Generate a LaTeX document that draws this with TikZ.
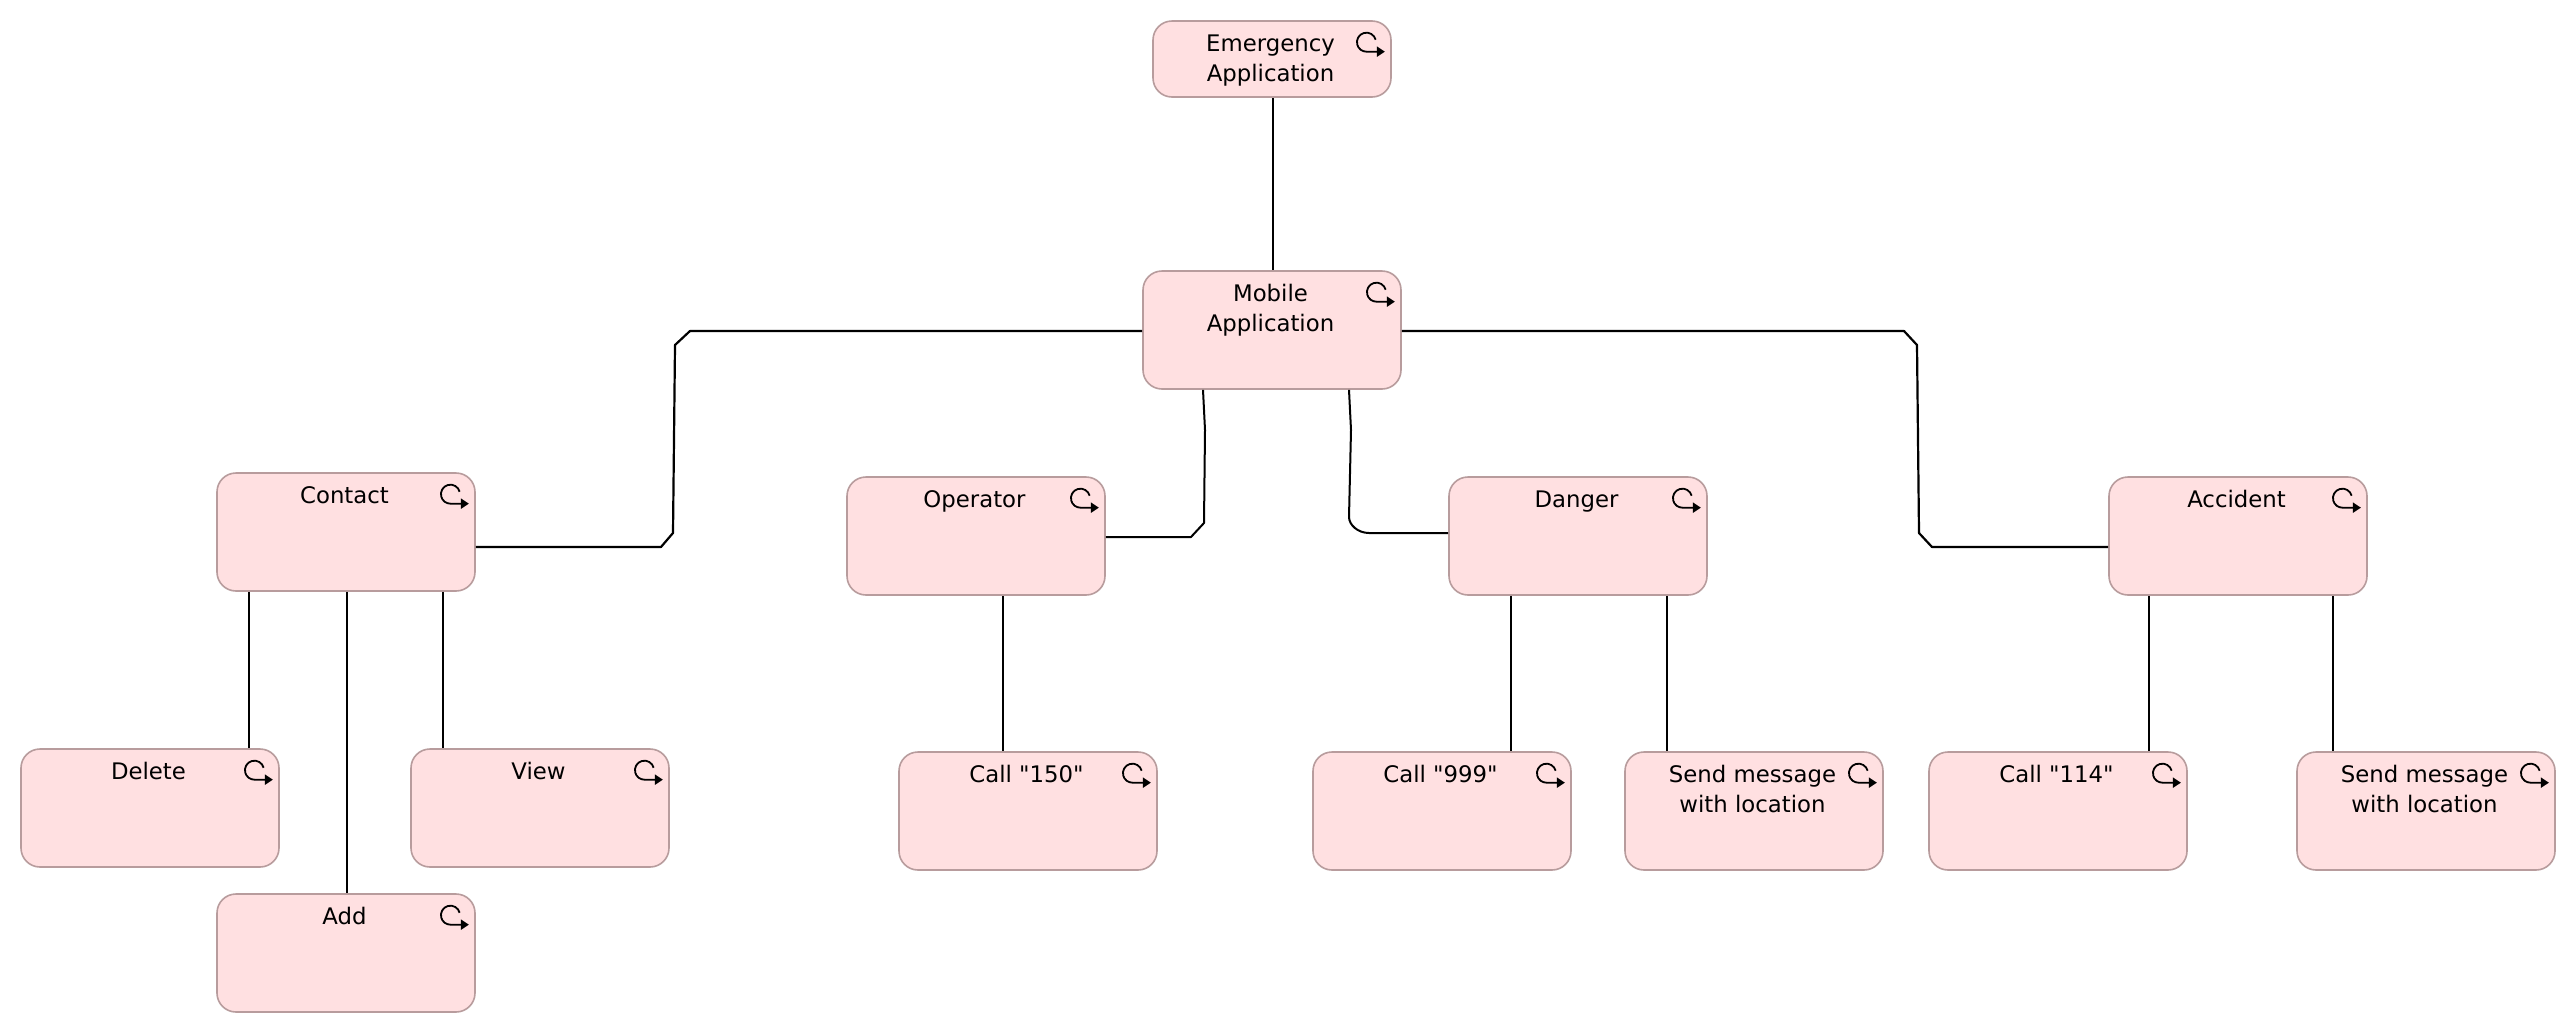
\documentclass[tikz,border=0pt]{standalone}
\usepackage{fontspec}
\setmainfont{DejaVu Sans}[Ligatures=TeXOff]
\usetikzlibrary{arrows.meta}
\definecolor{procfill}{HTML}{FFE0E1}
\definecolor{procline}{HTML}{B89C9D}
\tikzset{
  procbox/.style={draw=procline,fill=procfill,line width=1.6pt,rounded corners=19pt,inner sep=0pt,rectangle},
  proctext/.style={font=\fontsize{22.8}{30}\selectfont,align=center,inner sep=0pt,anchor=north,text=black},
  wire/.style={draw=black,line width=2.2pt,line join=round},
  wirethin/.style={draw=black,line width=2pt,line join=round},
  procicon/.style={draw=black,line width=1.8pt,-{Triangle[length=8pt,width=10pt]}}
}
\newcommand{\proc}[6]{%
  \node[procbox,minimum width=#4 pt,minimum height=#5 pt] (#1) at ({#2+#4/2},{#3+#5/2}) {};
  \node[proctext] (#1-label) at ([xshift=-1.5pt,yshift=-11.4pt]#1.north) {\rule{0pt}{20pt}#6};
  \draw[procicon] ([shift={(-16.2pt,-19.5pt)}]#1.north east) arc[start angle=15,end angle=270,radius=9.5pt] -- ++(18.5pt,0pt);
}
\begin{document}
\begin{tikzpicture}[x=1pt,y=-1pt]
\useasboundingbox[fill=white] (0,0) rectangle (2576,1034);
\proc{eme}{1153}{21}{238}{76}{Emergency\\Application}
\proc{mob}{1143}{271}{258}{118}{Mobile\\Application}
\proc{con}{217}{473}{258}{118}{Contact}
\proc{ope}{847}{477}{258}{118}{Operator}
\proc{dan}{1449}{477}{258}{118}{Danger}
\proc{acc}{2109}{477}{258}{118}{Accident}
\proc{del}{21}{749}{258}{118}{Delete}
\proc{vie}{411}{749}{258}{118}{View}
\proc{add}{217}{894}{258}{118}{Add}
\proc{cao}{899}{752}{258}{118}{Call "150"}
\proc{cbo}{1313}{752}{258}{118}{Call "999"}
\proc{sea}{1625}{752}{258}{118}{Send message\\with location}
\proc{cco}{1929}{752}{258}{118}{Call "114"}
\proc{seb}{2297}{752}{258}{118}{Send message\\with location}
% connectors
\draw[wire] ([xshift=1pt]eme.south) -- ([xshift=1pt]mob.north);
\draw[wire] ([yshift=-1pt]mob.west) -- (690,331) -- (675,345) -- (673,533) -- (661,547) -- ([yshift=-15pt]con.east);
\draw[wire] ([yshift=-1pt]mob.east) -- (1904,331) -- (1917,345) -- (1919,533) -- (1932,547) -- ([yshift=-11pt]acc.west);
\draw[wirethin] ([xshift=-69pt]mob.south) -- (1205,430) -- (1204,523) -- (1191,537) -- ([yshift=-1pt]ope.east);
\draw[wirethin] ([xshift=77pt]mob.south) -- (1351,430) -- (1349,517) .. controls (1349,525) and (1358,533) .. (1369,533) -- ([yshift=3pt]dan.west);
\draw[wirethin] ([xshift=-97pt]con.south) -- ([xshift=-97pt]con.south |- del.north);
\draw[wirethin] ([xshift=1pt]con.south) -- ([xshift=1pt]con.south |- add.north);
\draw[wirethin] ([xshift=96.5pt]con.south) -- ([xshift=96.5pt]con.south |- vie.north);
\draw[wirethin] ([xshift=27pt]ope.south) -- ([xshift=27pt]ope.south |- cao.north);
\draw[wirethin] ([xshift=-67pt]dan.south) -- ([xshift=-67pt]dan.south |- cbo.north);
\draw[wirethin] ([xshift=89pt]dan.south) -- ([xshift=89pt]dan.south |- sea.north);
\draw[wirethin] ([xshift=-89.5pt]acc.south) -- ([xshift=-89.5pt]acc.south |- cco.north);
\draw[wirethin] ([xshift=94.5pt]acc.south) -- ([xshift=94.5pt]acc.south |- seb.north);
\end{tikzpicture}
\end{document}
